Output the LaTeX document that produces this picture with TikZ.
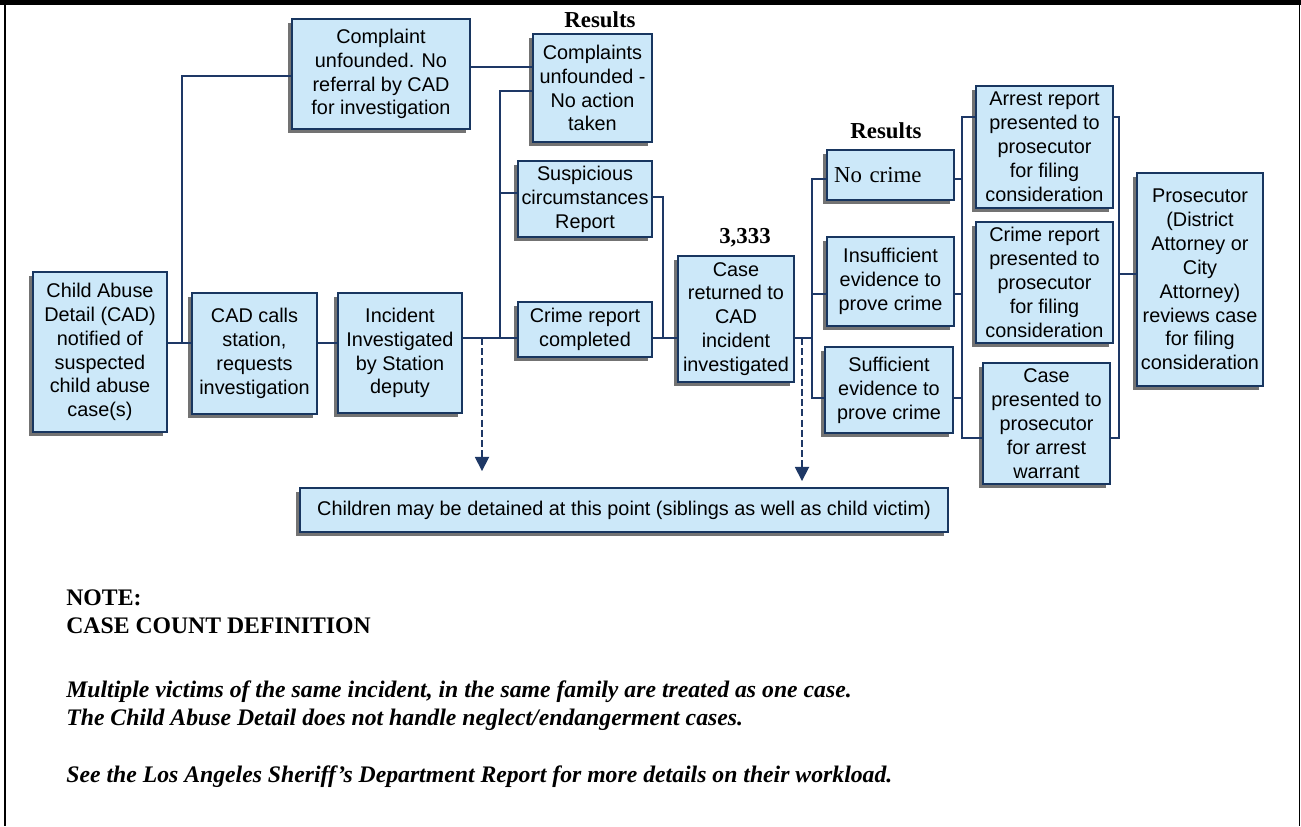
\documentclass[tikz,border=0pt]{standalone}
\usepackage{fontspec}
\setmainfont{Liberation Serif}
\setsansfont{Liberation Sans}
\usetikzlibrary{shadows,arrows.meta}

\newlength\unitpx
\setlength\unitpx{0.02cm}

\definecolor{boxfill}{RGB}{204,232,249}
\definecolor{boxline}{RGB}{24,54,96}
\definecolor{linkcol}{RGB}{30,56,102}

\tikzset{
  box/.style={draw=boxline, line width=1.1pt, fill=boxfill, align=center, inner sep=0pt,
    font=\sffamily\fontsize{11.3}{13.6}\selectfont,
    drop shadow={shadow xshift=-4\unitpx, shadow yshift=-4\unitpx, fill=black!55, opacity=1}},
  link/.style={draw=linkcol, line width=0.95pt},
  dlink/.style={link, dash pattern=on 4pt off 1.8pt, -{Triangle[width=8pt,length=8pt]}},
  heading/.style={font=\bfseries\fontsize{13}{15}\selectfont},
  notehead/.style={anchor=base west, inner sep=0pt, font=\bfseries\fontsize{13.5}{15}\selectfont},
  notetext/.style={anchor=base west, inner sep=0pt, font=\bfseries\itshape\fontsize{13.5}{15}\selectfont},
}

\begin{document}
\begin{tikzpicture}[x=0.02cm, y=-0.02cm]
  \useasboundingbox (0,0) rectangle (1301,826);

  %frame
  \fill[black] (0,0) rectangle (1301,5);
  \draw[line width=1.2pt] (5,0) -- (5,826);
  \draw[line width=0.9pt] (1299.5,0) -- (1299.5,826);

  %left chain
  \node[box, minimum width=134\unitpx, minimum height=160\unitpx] (notified) at (100,352)
    {Child Abuse\\Detail (CAD)\\notified of\\suspected\\child abuse\\case(s)};
  \node[box, minimum width=125\unitpx, minimum height=121\unitpx] (calls) at (254.5,353.5)
    {CAD calls\\station,\\requests\\investigation};
  \node[box, minimum width=124\unitpx, minimum height=120\unitpx] (incident) at (400,353)
    {Incident\\Investigated\\by Station\\deputy};
  \node[box, minimum width=178\unitpx, minimum height=110\unitpx] (unfounded) at (381,74)
    {Complaint\\unfounded. No\\referral by CAD\\for investigation};

  %first results
  \node[heading] (results1) at (600,20) {Results};
  \node[box, minimum width=119\unitpx, minimum height=108\unitpx] (noaction) at (592.5,88)
    {Complaints\\unfounded -\\No action\\taken};
  \node[box, minimum width=134\unitpx, minimum height=76\unitpx] (suspicious) at (585,199)
    {Suspicious\\circumstances\\Report};
  \node[box, minimum width=134\unitpx, minimum height=55\unitpx] (crimerep) at (585,329.5)
    {Crime report\\completed};

  %case returned
  \node[heading] (count) at (745,238) {3,333};
  \node[box, minimum width=116\unitpx, minimum height=126\unitpx] (returned) at (736,319)
    {Case\\returned to\\CAD\\incident\\investigated};

  %second results
  \node[heading] (results2) at (886,131) {Results};
  \node[box, minimum width=127\unitpx, minimum height=50\unitpx, text width=113\unitpx, align=left,
    font=\rmfamily\fontsize{13}{15}\selectfont] (nocrime) at (890.5,175) {No crime};
  \node[box, minimum width=127\unitpx, minimum height=89\unitpx] (insuff) at (890.5,281.5)
    {Insufficient\\evidence to\\prove crime};
  \node[box, minimum width=128\unitpx, minimum height=86\unitpx] (suff) at (889,390)
    {Sufficient\\evidence to\\prove crime};

  %prosecutor
  \node[box, minimum width=137\unitpx, minimum height=122\unitpx] (arrest) at (1044.5,147)
    {Arrest report\\presented to\\prosecutor\\for filing\\consideration};
  \node[box, minimum width=137\unitpx, minimum height=121\unitpx] (crimepres) at (1044.5,282.5)
    {Crime report\\presented to\\prosecutor\\for filing\\consideration};
  \node[box, minimum width=127\unitpx, minimum height=121\unitpx] (casepres) at (1046.5,423.5)
    {Case\\presented to\\prosecutor\\for arrest\\warrant};
  \node[box, minimum width=126\unitpx, minimum height=213\unitpx] (prosecutor) at (1200,279.5)
    {Prosecutor\\(District\\Attorney or\\City\\Attorney)\\reviews case\\for filing\\consideration};

  %detained
  \node[box, minimum width=648\unitpx, minimum height=44\unitpx] (detained) at (624,510)
    {Children may be detained at this point (siblings as well as child victim)};

  %junctions
  \coordinate (j1) at (182,343);
  \coordinate (j2) at (500,338);
  \coordinate (j3) at (663,338);
  \coordinate (j4) at (812,338);
  \coordinate (j5) at (962,117);
  \coordinate (j6) at (1119,274);
  \coordinate (d1) at (482,338);
  \coordinate (d2) at (802,338);

  \draw[link] (notified.east |- j1) -- (calls.west |- j1);
  \draw[link] (j1) |- (unfounded.west |- 0,76);
  \draw[link] (calls.east |- j1) -- (incident.west |- j1);
  \draw[link] (unfounded.east |- 0,67) -- (noaction.west |- 0,67);

  \draw[link] (incident.east |- j2) -- (crimerep.west |- j2);
  \draw[link] (j2) |- (noaction.west |- 0,91);
  \draw[link] (j2 |- 0,193) -- (suspicious.west |- 0,193);
  \draw[link] (suspicious.east |- 0,197) -| (j3);
  \draw[link] (crimerep.east |- j3) -- (returned.west |- j3);

  \draw[link] (returned.east |- j4) -- (j4);
  \draw[link] (nocrime.west |- 0,179) -| (j4 |- 0,398) -- (suff.west |- 0,398);
  \draw[link] (j4 |- 0,294) -- (insuff.west |- 0,294);

  \draw[link] (arrest.west |- j5) -- (j5) -- (j5 |- 0,438) -- (casepres.west |- 0,438);
  \draw[link] (nocrime.east |- 0,179) -- (j5 |- 0,179);
  \draw[link] (insuff.east |- 0,294) -- (j5 |- 0,294);
  \draw[link] (suff.east |- 0,398) -- (j5 |- 0,398);

  \draw[link] (arrest.east |- j5) -| (j6 |- 0,438) -- (casepres.east |- 0,438);
  \draw[link] (j6) -- (prosecutor.west |- j6);

  \draw[dlink, shorten >=0.32cm] (d1) -- (d1 |- detained.north);
  \draw[dlink, shorten >=0.12cm] (d2) -- (d2 |- detained.north);

  %note
  \node[notehead] (note) at (66,605) {NOTE:};
  \node[notehead] (definition) at (66,633) {CASE COUNT DEFINITION};
  \node[notetext] (victims) at (66,697) {Multiple victims of the same incident, in the same family are treated as one case.};
  \node[notetext] (neglect) at (66,725) {The Child Abuse Detail does not handle neglect/endangerment cases.};
  \node[notetext] (sheriff) at (66,782) {See the Los Angeles Sheriff’s Department Report for more details on their workload.};

\end{tikzpicture}
\end{document}
